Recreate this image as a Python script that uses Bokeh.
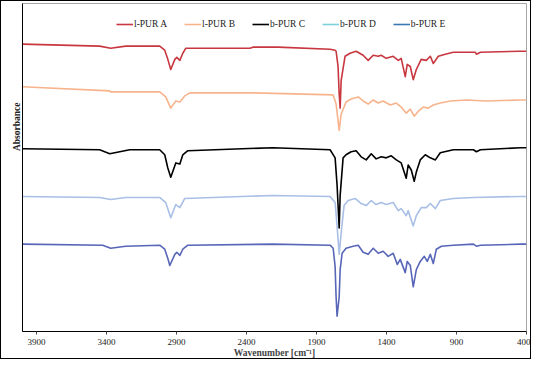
from bokeh.plotting import figure
from bokeh.models import Range1d, FixedTicker, Legend, LegendItem, Title
from bokeh.embed import file_html
from bokeh.resources import INLINE

# ---------------- data (arbitrary absorbance units) ----
series_names = ["l-PUR A", "l-PUR B", "b-PUR C", "b-PUR D", "b-PUR E"]

wn_A = [4000, 3449, 3370, 3263, 3020, 2984, 2962, 2941, 2912, 2898, 2876, 2855, 2833, 2640, 2375, 2354, 2175,
        1803, 1767, 1760, 1746, 1738, 1731, 1724, 1710, 1696, 1660, 1617, 1567, 1531, 1495, 1459, 1438, 1402,
        1352, 1316, 1295, 1266, 1252, 1230, 1209, 1187, 1152, 1116, 1087, 1066, 1030, 980, 923, 765, 758, 729,
        443, 400]
abs_A = [2.94, 2.92, 2.90, 2.92, 2.92, 2.88, 2.79, 2.69, 2.79, 2.81, 2.78, 2.85, 2.90, 2.90, 2.90, 2.91, 2.91,
         2.89, 2.88, 2.87, 2.72, 2.45, 2.31, 2.58, 2.70, 2.82, 2.85, 2.87, 2.83, 2.78, 2.83, 2.82, 2.83, 2.80,
         2.82, 2.78, 2.80, 2.62, 2.74, 2.72, 2.59, 2.69, 2.79, 2.78, 2.82, 2.75, 2.82, 2.84, 2.86, 2.86, 2.84, 2.86,
         2.87, 2.87]

wn_B = [4000, 3377, 3370, 3020, 2977, 2941, 2905, 2876, 2841, 2805, 2404, 2354, 1781, 1760, 1738, 1724, 1689,
        1653, 1602, 1567, 1531, 1495, 1459, 1424, 1373, 1330, 1295, 1259, 1230, 1202, 1173, 1137, 1102, 1066,
        1016, 944, 829, 686, 443, 400]
abs_B = [2.52, 2.48, 2.47, 2.47, 2.42, 2.31, 2.38, 2.37, 2.43, 2.46, 2.46, 2.46, 2.44, 2.35, 2.09, 2.25, 2.37,
         2.40, 2.42, 2.38, 2.35, 2.39, 2.36, 2.38, 2.34, 2.36, 2.32, 2.26, 2.30, 2.23, 2.28, 2.32, 2.31, 2.34,
         2.36, 2.38, 2.39, 2.38, 2.39, 2.39]

wn_C = [4000, 3449, 3377, 3234, 3020, 2984, 2962, 2941, 2905, 2876, 2855, 2819, 2211, 1803, 1767, 1753, 1738,
        1731, 1710, 1689, 1653, 1617, 1581, 1545, 1509, 1474, 1438, 1402, 1366, 1330, 1295, 1259, 1245, 1223,
        1202, 1187, 1159, 1123, 1087, 1051, 1016, 923, 779, 758, 729, 443, 400]
abs_C = [1.91, 1.90, 1.86, 1.90, 1.90, 1.85, 1.72, 1.63, 1.77, 1.76, 1.85, 1.89, 1.92, 1.90, 1.82, 1.55, 1.13,
         1.45, 1.82, 1.85, 1.88, 1.89, 1.83, 1.80, 1.86, 1.81, 1.83, 1.82, 1.84, 1.80, 1.77, 1.62, 1.75, 1.70,
         1.59, 1.68, 1.80, 1.85, 1.82, 1.80, 1.87, 1.90, 1.90, 1.88, 1.90, 1.92, 1.92]

wn_D = [4000, 3449, 3370, 3263, 3020, 2977, 2941, 2905, 2876, 2841, 2211, 1803, 1767, 1753, 1738, 1724, 1703,
        1674, 1624, 1581, 1545, 1509, 1474, 1438, 1402, 1352, 1316, 1295, 1259, 1245, 1209, 1187, 1152, 1116,
        1087, 1051, 1016, 923, 779, 443, 400]
abs_D = [1.44, 1.43, 1.41, 1.43, 1.43, 1.38, 1.23, 1.36, 1.33, 1.42, 1.45, 1.44, 1.38, 1.15, 0.87, 1.08, 1.35,
         1.40, 1.42, 1.37, 1.35, 1.40, 1.36, 1.38, 1.36, 1.38, 1.30, 1.32, 1.25, 1.30, 1.15, 1.25, 1.33, 1.33,
         1.37, 1.32, 1.40, 1.42, 1.43, 1.44, 1.44]

wn_E = [4000, 3427, 3370, 3263, 3020, 2984, 2962, 2948, 2912, 2898, 2876, 2855, 2819, 2211, 1803, 1781, 1767,
        1760, 1753, 1738, 1731, 1717, 1689, 1638, 1602, 1567, 1531, 1495, 1459, 1424, 1388, 1352, 1323, 1302,
        1266, 1252, 1230, 1209, 1187, 1159, 1130, 1109, 1087, 1066, 1044, 1008, 923, 779, 758, 729, 443, 400]
abs_E = [0.97, 0.96, 0.93, 0.95, 0.96, 0.92, 0.83, 0.76, 0.87, 0.89, 0.86, 0.92, 0.96, 0.97, 0.96, 0.93, 0.75,
         0.45, 0.26, 0.45, 0.72, 0.88, 0.93, 0.95, 0.96, 0.89, 0.87, 0.93, 0.88, 0.90, 0.85, 0.88, 0.77, 0.82,
         0.69, 0.80, 0.76, 0.55, 0.72, 0.80, 0.85, 0.80, 0.87, 0.78, 0.92, 0.95, 0.96, 0.97, 0.95, 0.96, 0.97,
         0.97]

x_ticks = [3900, 3400, 2900, 2400, 1900, 1400, 900, 400]

line_colors = ["#c8373f", "#f7b48c", "#000000", "#a9bfe6", "#5866b8"]
legend_colors = ["#c8373f", "#f7b48c", "#000000", "#7dd0dc", "#3a78b4"]

# ---------------- figure ------------------------------------------------------
FONT = "Liberation Serif"

p = figure(width=531, height=359, output_backend="svg", toolbar_location=None,
           x_range=Range1d(4000, 400), y_range=Range1d(0.11, 3.34),
           min_border_left=21, min_border_right=6, min_border_top=2, min_border_bottom=10)
p.styles = {"border": "1px solid black"}
p.xgrid.visible = False
p.ygrid.visible = False
p.outline_line_color = "#a6a6a6"
p.outline_line_width = 1
p.background_fill_color = "white"
p.border_fill_color = "white"

# x axis
p.xaxis.ticker = FixedTicker(ticks=x_ticks)
p.xaxis.axis_label = "Wavenumber [cm\u207b\u00b9]"
p.xaxis.axis_label_text_font = FONT
p.xaxis.axis_label_text_font_style = "bold"
p.xaxis.axis_label_text_font_size = "9.5px"
p.xaxis.axis_label_standoff = 0
p.xaxis.major_label_text_font = FONT
p.xaxis.major_label_text_font_size = "9px"
p.xaxis.major_label_text_color = "#222222"
p.xaxis.major_label_standoff = 4
p.xaxis.major_tick_in = 0
p.xaxis.major_tick_out = 3
p.xaxis.minor_tick_line_color = None
p.xaxis.axis_line_color = "black"
p.xaxis.major_tick_line_color = "#444444"

# y axis: line only
p.yaxis.ticker = FixedTicker(ticks=[])
p.yaxis.major_tick_line_color = None
p.yaxis.minor_tick_line_color = None
p.yaxis.major_label_text_font_size = "0px"
p.yaxis.major_label_standoff = 0
p.yaxis.major_tick_out = 0
p.yaxis.axis_line_color = "black"

# y axis title, placed above the middle as in the reference
ytitle = Title(text="Absorbance", align="right", offset=99, standoff=2,
               text_font=FONT, text_font_style="bold", text_font_size="9.5px",
               text_color="#222222")
p.add_layout(ytitle, "left")

# spectra
wns = [wn_A, wn_B, wn_C, wn_D, wn_E]
absv = [abs_A, abs_B, abs_C, abs_D, abs_E]
for w, a, c in zip(wns, absv, line_colors):
    p.line(x=w, y=a, line_color=c, line_width=1.6, line_join="round")

# legend (legend swatch colours differ slightly from the drawn spectra, as in the reference)
nan = float("nan")
items = []
for name, c in zip(series_names, legend_colors):
    r = p.line(x=[nan], y=[nan], line_color=c, line_width=1.6)
    items.append(LegendItem(label=name, renderers=[r]))
legend = Legend(items=items, orientation="horizontal", location=(94, 301),
                label_text_font=FONT, label_text_font_size="9.5px", label_text_color="#222222",
                glyph_width=17, glyph_height=12, label_height=12, label_standoff=1,
                spacing=17, padding=0, margin=0, border_line_color=None,
                background_fill_alpha=0)
p.add_layout(legend, "center")

open("out.html", "w").write(file_html(p, INLINE))
